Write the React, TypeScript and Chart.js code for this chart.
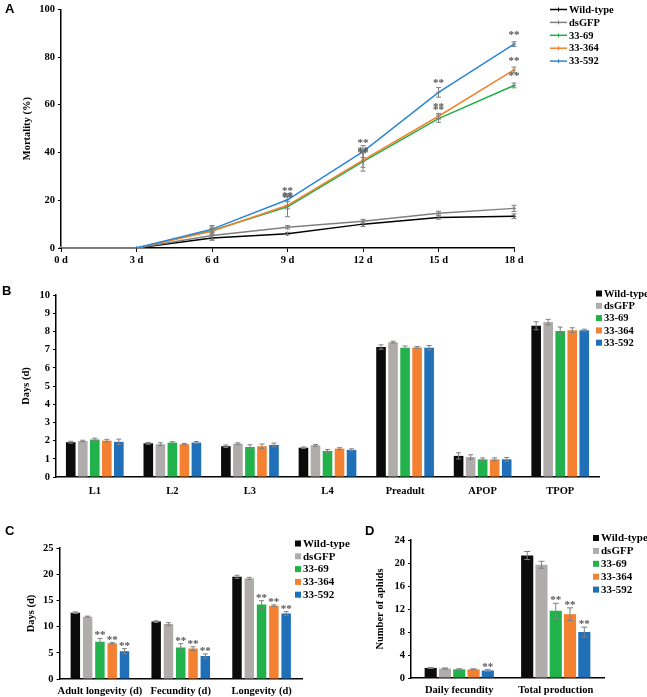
import React, { useEffect, useRef } from "react";
import { Chart, registerables } from "chart.js";

Chart.register(...registerables);

const SERIF = "'Liberation Serif', 'Times New Roman', serif";
const SANS = "'Liberation Sans', Arial, sans-serif";
Chart.defaults.font.family = SERIF;
Chart.defaults.font.size = 10.5;
Chart.defaults.font.weight = "bold";
Chart.defaults.color = "#000";

// ---------- shared ----------
const SERIES = ["Wild-type", "dsGFP", "33-69", "33-364", "33-592"];
const LINE_COLORS = ["#000000", "#808080", "#22b04b", "#f4822e", "#2b86d8"];
const BAR_COLORS = ["#0b0b0b", "#b0acab", "#22b24c", "#f38131", "#1f6fb9"];

// ---------- Panel A: mortality ----------
const DAYS = ["0 d", "3 d", "6 d", "9 d", "12 d", "15 d", "18 d"];
const mortWT = [0, 0, 4.2, 6.0, 10.0, 12.8, 13.3];
const mortGFP = [0, 0, 5.2, 8.7, 11.2, 14.6, 16.6];
const mort69 = [0, 0, 7.3, 17.3, 36.2, 54.2, 68.1];
const mort364 = [0, 0, 7.0, 17.9, 36.8, 55.2, 74.6];
const mort592 = [0, 0, 7.9, 20.2, 40.4, 65.2, 85.4];
const errWT = [0, 0, 1.0, 0.5, 1.0, 0.7, 1.0];
const errGFP = [0, 0, 1.5, 0.7, 0.8, 0.8, 1.3];
const err69 = [0, 0, 1.5, 4.2, 4.0, 1.5, 1.0];
const err364 = [0, 0, 1.2, 1.5, 3.0, 1.2, 1.2];
const err592 = [0, 0, 1.5, 2.5, 2.5, 2.0, 1.0];
const sigNone = ["", "", "", "", "", "", ""];
const sigA = ["", "", "", "**", "**", "**", "**"];

// ---------- Panel B: development ----------
const STAGES = ["L1", "L2", "L3", "L4", "Preadult", "APOP", "TPOP"];
const devWT = [1.91, 1.85, 1.69, 1.61, 7.14, 1.16, 8.31];
const devGFP = [1.98, 1.80, 1.83, 1.74, 7.41, 1.10, 8.51];
const dev69 = [2.06, 1.89, 1.65, 1.43, 7.10, 0.97, 8.02];
const dev364 = [2.00, 1.80, 1.69, 1.56, 7.12, 0.97, 8.07];
const dev592 = [1.93, 1.89, 1.76, 1.49, 7.10, 0.97, 8.07];
const devErrWT = [0.05, 0.05, 0.07, 0.04, 0.12, 0.17, 0.22];
const devErrGFP = [0.04, 0.08, 0.05, 0.05, 0.05, 0.12, 0.15];
const devErr69 = [0.07, 0.05, 0.12, 0.08, 0.10, 0.08, 0.22];
const devErr364 = [0.07, 0.04, 0.12, 0.05, 0.05, 0.08, 0.13];
const devErr592 = [0.15, 0.06, 0.10, 0.06, 0.12, 0.10, 0.05];

// ---------- Panel C: longevity ----------
const LONG_CATS = ["Adult longevity (d)", "Fecundity (d)", "Longevity (d)"];
const longWT = [12.66, 10.95, 19.5];
const longGFP = [11.9, 10.5, 19.2];
const long69 = [7.1, 6.0, 14.2];
const long364 = [6.8, 5.8, 14.0];
const long592 = [5.3, 4.4, 12.5];
const longErrWT = [0.15, 0.15, 0.3];
const longErrGFP = [0.1, 0.25, 0.2];
const longErr69 = [0.65, 0.75, 0.75];
const longErr364 = [0.15, 0.35, 0.15];
const longErr592 = [0.5, 0.4, 0.35];
const sigC = ["**", "**", "**"];
const sigCNone = ["", "", ""];

// ---------- Panel D: fecundity ----------
const FEC_CATS = ["Daily fecundity", "Total production"];
const fecWT = [1.75, 21.3];
const fecGFP = [1.65, 19.7];
const fec69 = [1.5, 11.7];
const fec364 = [1.5, 11.1];
const fec592 = [1.3, 8.0];
const fecErrWT = [0.1, 0.7];
const fecErrGFP = [0.1, 0.6];
const fecErr69 = [0.1, 1.3];
const fecErr364 = [0.1, 1.1];
const fecErr592 = [0.15, 0.85];
const sigD69 = ["", "**"];
const sigD592 = ["**", "**"];
const sigDNone = ["", ""];

// ---------- plugins ----------
const errorBarPlugin = {
  id: "errorBars",
  afterDatasetsDraw(chart: any, _a: any, opts: any) {
    const ctx = chart.ctx;
    const ys = chart.scales.y;
    const cap = opts.cap ?? 3;
    chart.data.datasets.forEach((ds: any, i: number) => {
      if (!ds.errors) return;
      const meta = chart.getDatasetMeta(i);
      meta.data.forEach((el: any, j: number) => {
        const e = ds.errors[j];
        if (!e) return;
        const v = ds.data[j];
        const x = el.x;
        const yT = ys.getPixelForValue(v + e);
        const yB = ys.getPixelForValue(Math.max(0, v - e));
        ctx.save();
        ctx.strokeStyle = "#808080";
        ctx.lineWidth = 1;
        ctx.beginPath();
        ctx.moveTo(x, yT);
        ctx.lineTo(x, yB);
        ctx.moveTo(x - cap, yT);
        ctx.lineTo(x + cap, yT);
        ctx.moveTo(x - cap, yB);
        ctx.lineTo(x + cap, yB);
        ctx.stroke();
        ctx.restore();
      });
    });
  },
};

const starPlugin = {
  id: "stars",
  afterDatasetsDraw(chart: any, _a: any, opts: any) {
    const ctx = chart.ctx;
    const ys = chart.scales.y;
    chart.data.datasets.forEach((ds: any, i: number) => {
      if (!ds.stars) return;
      const meta = chart.getDatasetMeta(i);
      meta.data.forEach((el: any, j: number) => {
        const s = ds.stars[j];
        if (!s) return;
        const top = opts.useErr ? ds.data[j] + (ds.errors ? ds.errors[j] : 0) : ds.data[j];
        const y = ys.getPixelForValue(top) - opts.gap;
        ctx.save();
        ctx.font = `bold ${opts.size}px ${SERIF}`;
        ctx.fillStyle = "#555";
        ctx.textAlign = "center";
        ctx.textBaseline = "alphabetic";
        ctx.fillText(s, el.x, y);
        ctx.restore();
      });
    });
  },
};

const sideLegendPlugin = {
  id: "sideLegend",
  afterDraw(chart: any, _a: any, opts: any) {
    if (!opts || !opts.display) return;
    const ctx = chart.ctx;
    ctx.save();
    ctx.font = `bold ${opts.size}px ${SERIF}`;
    ctx.textBaseline = "middle";
    ctx.textAlign = "left";
    chart.data.datasets.forEach((ds: any, i: number) => {
      const y = opts.y + i * opts.dy;
      const color = ds.borderColor && opts.kind === "line" ? ds.borderColor : ds.backgroundColor;
      let tx;
      if (opts.kind === "line") {
        ctx.strokeStyle = color;
        ctx.lineWidth = 1.5;
        ctx.beginPath();
        ctx.moveTo(opts.x, y);
        ctx.lineTo(opts.x + 17, y);
        ctx.stroke();
        ctx.lineWidth = 1;
        ctx.beginPath();
        ctx.moveTo(opts.x + 8.5, y - 2);
        ctx.lineTo(opts.x + 8.5, y + 2);
        ctx.stroke();
        tx = opts.x + 19;
      } else {
        ctx.fillStyle = color;
        ctx.fillRect(opts.x, y - 3, 6, 6);
        tx = opts.x + 8;
      }
      ctx.fillStyle = "#000";
      ctx.fillText(ds.label, tx, y + 0.5);
    });
    ctx.restore();
  },
};

const PLUGINS = [errorBarPlugin, starPlugin, sideLegendPlugin];

// ---------- configs ----------
function yAxis(min: number, max: number, step: number, title: string, titlePad: number, width: number) {
  return {
    min,
    max,
    ticks: { stepSize: step, padding: 3 },
    grid: { drawOnChartArea: false, drawTicks: true, tickLength: 3, color: "#000" },
    border: { color: "#000", width: 1.5 },
    title: { display: true, text: title, padding: { top: titlePad, bottom: 0 } },
    afterFit: (s: any) => {
      s.width = width;
    },
  };
}

function xCatAxis(height: number, pad: number) {
  return {
    type: "category",
    grid: { display: false, drawTicks: false },
    border: { color: "#000", width: 1.5 },
    ticks: { padding: pad, maxRotation: 0, autoSkip: false },
    afterFit: (s: any) => {
      s.height = height;
    },
  };
}

function barDatasets(vals: number[][], errs: number[][], stars?: string[][]) {
  return SERIES.map((name, i) => ({
    label: name,
    data: vals[i],
    errors: errs[i],
    stars: stars ? stars[i] : undefined,
    backgroundColor: BAR_COLORS[i],
    borderWidth: 0,
  }));
}

function configA() {
  const vals = [mortWT, mortGFP, mort69, mort364, mort592];
  const errs = [errWT, errGFP, err69, err364, err592];
  const sigs = [sigNone, sigNone, sigA, sigA, sigA];
  return {
    type: "line",
    data: {
      labels: DAYS,
      datasets: SERIES.map((name, i) => ({
        label: name,
        data: vals[i],
        errors: errs[i],
        stars: sigs[i],
        borderColor: LINE_COLORS[i],
        backgroundColor: LINE_COLORS[i],
        borderWidth: 1.5,
        pointStyle: "cross",
        pointRadius: 2,
        pointBorderWidth: 1,
        tension: 0,
        order: 5 - i,
      })),
    },
    options: {
      responsive: false,
      animation: false,
      devicePixelRatio: 1,
      events: [],
      layout: { padding: { left: 0, top: 7, right: 133, bottom: 0 } },
      plugins: {
        legend: { display: false },
        tooltip: { enabled: false },
        errorBars: { cap: 2.5 },
        stars: { useErr: false, gap: 6, size: 11 },
        sideLegend: { display: true, kind: "line", x: 550, y: 9.5, dy: 12.9, size: 10.5 },
      },
      scales: {
        x: {
          type: "category",
          offset: false,
          grid: { display: true, drawOnChartArea: false, drawTicks: true, tickLength: 4, color: "#000" },
          border: { color: "#000", width: 1.5 },
          ticks: { padding: 2, maxRotation: 0, autoSkip: false },
          afterFit: (s: any) => {
            s.height = 27;
          },
        },
        y: yAxis(0, 100, 20, "Mortality (%)", 21, 61),
      },
    },
  };
}

function configB() {
  return {
    type: "bar",
    data: {
      labels: STAGES,
      datasets: barDatasets(
        [devWT, devGFP, dev69, dev364, dev592],
        [devErrWT, devErrGFP, devErr69, devErr364, devErr592]
      ),
    },
    options: {
      responsive: false,
      animation: false,
      devicePixelRatio: 1,
      events: [],
      categoryPercentage: 0.775,
      barPercentage: 0.8,
      layout: { padding: { left: 0, top: 15, right: 48, bottom: 0 } },
      plugins: {
        legend: { display: false },
        tooltip: { enabled: false },
        errorBars: { cap: 2.5 },
        stars: { useErr: true, gap: 0, size: 11 },
        sideLegend: { display: true, kind: "box", x: 596, y: 13.5, dy: 12.3, size: 10.5 },
      },
      scales: {
        x: xCatAxis(25, 8),
        y: yAxis(0, 10, 1, "Days (d)", 19.5, 56),
      },
    },
  };
}

function configC() {
  return {
    type: "bar",
    data: {
      labels: LONG_CATS,
      datasets: barDatasets(
        [longWT, longGFP, long69, long364, long592],
        [longErrWT, longErrGFP, longErr69, longErr364, longErr592],
        [sigCNone, sigCNone, sigC, sigC, sigC]
      ),
    },
    options: {
      responsive: false,
      animation: false,
      devicePixelRatio: 1,
      events: [],
      categoryPercentage: 0.76,
      barPercentage: 0.77,
      layout: { padding: { left: 0, top: 48, right: 63, bottom: 0 } },
      plugins: {
        legend: { display: false },
        tooltip: { enabled: false },
        errorBars: { cap: 2.5 },
        stars: { useErr: true, gap: 0, size: 11 },
        sideLegend: { display: true, kind: "box", x: 295, y: 43.5, dy: 12.8, size: 11 },
      },
      scales: {
        x: xCatAxis(18, 6),
        y: yAxis(0, 25, 5, "Days (d)", 24.5, 59.5),
      },
    },
  };
}

function configD() {
  return {
    type: "bar",
    data: {
      labels: FEC_CATS,
      datasets: barDatasets(
        [fecWT, fecGFP, fec69, fec364, fec592],
        [fecErrWT, fecErrGFP, fecErr69, fecErr364, fecErr592],
        [sigDNone, sigDNone, sigD69, sigD69, sigD592]
      ),
    },
    options: {
      responsive: false,
      animation: false,
      devicePixelRatio: 1,
      events: [],
      categoryPercentage: 0.74,
      barPercentage: 0.85,
      layout: { padding: { left: 0, top: 40, right: 43, bottom: 0 } },
      plugins: {
        legend: { display: false },
        tooltip: { enabled: false },
        errorBars: { cap: 3 },
        stars: { useErr: true, gap: 0, size: 11 },
        sideLegend: { display: true, kind: "box", x: 238, y: 38, dy: 12.9, size: 11 },
      },
      scales: {
        x: xCatAxis(19, 6),
        y: yAxis(0, 24, 2, "Number of aphids", 18.5, 56),
      },
    },
  };
}

function Panel(props: { left: number; top: number; width: number; height: number; make: () => any }) {
  const ref = useRef<HTMLCanvasElement | null>(null);
  useEffect(() => {
    if (!ref.current) return;
    const cfg = props.make();
    const chart = new Chart(ref.current, { ...cfg, plugins: PLUGINS } as any);
    return () => chart.destroy();
  }, []);
  return (
    <canvas
      ref={ref}
      width={props.width}
      height={props.height}
      style={{
        position: "absolute",
        left: props.left,
        top: props.top,
        width: props.width,
        height: props.height,
      }}
    />
  );
}

const letterStyle = (left: number, top: number): React.CSSProperties => ({
  position: "absolute",
  left,
  top,
  font: `bold 13px ${SANS}`,
  lineHeight: "13px",
  color: "#000",
});

export default function App() {
  return (
    <div
      style={{
        position: "fixed",
        left: 0,
        top: 0,
        width: 647,
        height: 697,
        background: "#fff",
        overflow: "hidden",
      }}
    >
      <Panel left={0} top={0} width={647} height={275} make={configA} />
      <Panel left={0} top={280} width={647} height={222} make={configB} />
      <Panel left={0} top={500} width={365} height={197} make={configC} />
      <Panel left={355} top={500} width={292} height={197} make={configD} />
      <div style={letterStyle(5, 2)}>A</div>
      <div style={letterStyle(2, 284)}>B</div>
      <div style={letterStyle(5, 524)}>C</div>
      <div style={letterStyle(365, 524)}>D</div>
    </div>
  );
}
